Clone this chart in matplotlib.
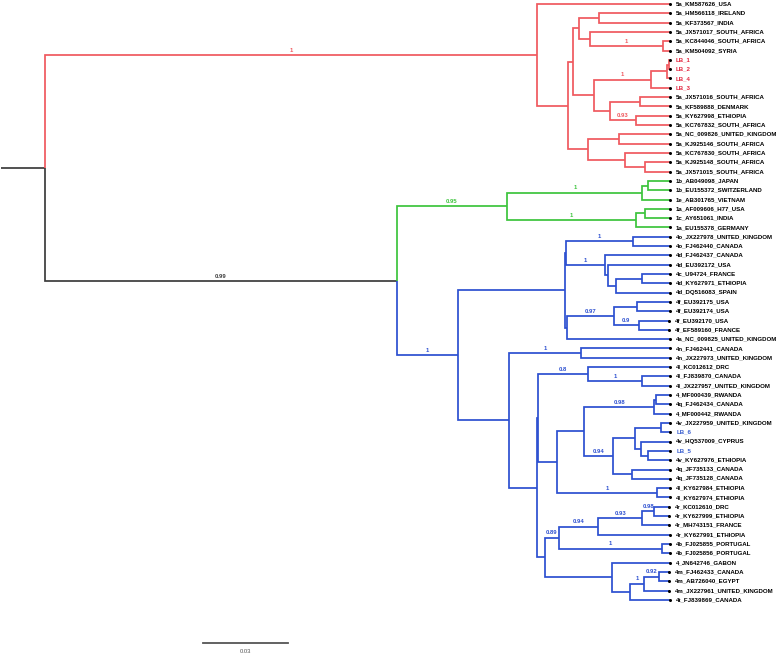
import matplotlib
matplotlib.use('Agg')
import matplotlib.pyplot as plt

#%% data : tree with branch lengths (subst./site) and posterior support
tree_nwk = (
    "((5a_KM587626_USA:0.0468,"
    "((((5a_HM566118_IRELAND:0.0251,5a_KF373567_INDIA:0.0251):0.0070,"
    "(5a_JX571017_SOUTH_AFRICA:0.0282,(5a_KC844046_SOUTH_AFRICA:0.0024,5a_KM504092_SYRIA:0.0024)1:0.0259):0.0038):0.0023,"
    "((((LB_1:0.0004,LB_2:0.0004):0.0008,LB_4:0.0012):0.0055,LB_3:0.0067)1:0.0201,"
    "((5a_JX571016_SOUTH_AFRICA:0.0106,5a_KF589888_DENMARK:0.0106):0.0106,"
    "(5a_KY627998_ETHIOPIA:0.0120,5a_KC767832_SOUTH_AFRICA:0.0120)0.93:0.0092):0.0056):0.0075):0.0016,"
    "((5a_NC_009826_UNITED_KINGDOM:0.0180,5a_KJ925146_SOUTH_AFRICA:0.0180):0.0109,"
    "(5a_KC767830_SOUTH_AFRICA:0.0159,(5a_KJ925148_SOUTH_AFRICA:0.0088,5a_JX571015_SOUTH_AFRICA:0.0088):0.0071):0.0131):0.0070):0.0109)1:0.1738,"
    "((((1b_AB049098_JAPAN:0.0077,1b_EU155372_SWITZERLAND:0.0077):0.0020,1e_AB301765_VIETNAM:0.0096)1:0.0478,"
    "((1a_AF009606_H77_USA:0.0086,1c_AY651061_INDIA:0.0086):0.0034,1a_EU155378_GERMANY:0.0120)1:0.0454)0.95:0.0389,"
    "((((4o_JX227978_UNITED_KINGDOM:0.0130,4o_FJ462440_CANADA:0.0130)1:0.0236,"
    "(4d_FJ462437_CANADA:0.0229,(4d_EU392172_USA:0.0220,((4c_U94724_FRANCE:0.0096,4d_KY627971_ETHIOPIA:0.0096):0.0094,4d_DQ516083_SPAIN:0.0191):0.0029):0.0010)1:0.0136):0.0004,"
    "(((4f_EU392175_USA:0.0114,4f_EU392174_USA:0.0114):0.0083,(4f_EU392170_USA:0.0108,4f_EF589160_FRANCE:0.0108)0.9:0.0088)0.97:0.0165,"
    "4a_NC_009825_UNITED_KINGDOM:0.0362):0.0007):0.0379,"
    "((4n_FJ462441_CANADA:0.0314,4n_JX227973_UNITED_KINGDOM:0.0314)1:0.0253,"
    "(((4l_KC012612_DRC:0.0290,(4l_FJ839870_CANADA:0.0098,4l_JX227957_UNITED_KINGDOM:0.0098)1:0.0193)0.8:0.0176,"
    "((((4_MF000439_RWANDA:0.0052,4q_FJ462434_CANADA:0.0052):0.0004,4_MF000442_RWANDA:0.0055)0.98:0.0247,"
    "(((4v_JX227959_UNITED_KINGDOM:0.0033,LB_6:0.0033):0.0091,(4v_HQ537009_CYPRUS:0.0102,(LB_5:0.0077,4v_KY627976_ETHIOPIA:0.0077):0.0026):0.0021):0.0077,"
    "(4q_JF735133_CANADA:0.0135,4q_JF735128_CANADA:0.0135):0.0065)0.94:0.0102):0.0097,"
    "(4l_KY627984_ETHIOPIA:0.0047,4l_KY627974_ETHIOPIA:0.0047)1:0.0353):0.0067):0.0002,"
    "(((((4r_KC012610_DRC:0.0053,4r_KY627999_ETHIOPIA:0.0053)0.98:0.0043,4r_MH743151_FRANCE:0.0096)0.93:0.0155,4r_KY627991_ETHIOPIA:0.0252)0.94:0.0140,"
    "(4b_FJ025855_PORTUGAL:0.0026,4b_FJ025856_PORTUGAL:0.0026)1:0.0366)0.89:0.0047,"
    "(4_JN642746_GABON:0.0204,(((4m_FJ462433_CANADA:0.0038,4m_AB726040_EGYPT:0.0038)0.92:0.0050,4m_JX227961_UNITED_KINGDOM:0.0088)1:0.0050,4t_FJ839869_CANADA:0.0139):0.0065):0.0235):0.0028):0.0100):0.0181)1:0.0215)0.99:0.1242):0.0155"
)

# genotype of the study samples
sample_genotype = {'LB_1': '5a', 'LB_2': '5a', 'LB_3': '5a', 'LB_4': '5a',
                   'LB_5': '4v', 'LB_6': '4v'}
clade_colors = {'5': '#f0595e', '1': '#3cc43c', '4': '#2c4fd0'}
sample_text_colors = {'5': '#e3263f', '4': '#3a5fd0'}
base_color = '#3c3c3c'
scale_len = 0.03

#%% parse newick
def parse(s):
    pos = [0]
    def node():
        n = {'children': [], 'name': '', 'len': 0.0}
        if s[pos[0]] == '(':
            pos[0] += 1
            while True:
                n['children'].append(node())
                c = s[pos[0]]
                pos[0] += 1
                if c == ')':
                    break
        start = pos[0]
        while pos[0] < len(s) and s[pos[0]] not in ':,();':
            pos[0] += 1
        n['name'] = s[start:pos[0]]
        if pos[0] < len(s) and s[pos[0]] == ':':
            pos[0] += 1
            start = pos[0]
            while pos[0] < len(s) and s[pos[0]] not in ',();':
                pos[0] += 1
            n['len'] = float(s[start:pos[0]])
        return n
    return node()

root = parse(tree_nwk)
leaves = []

def layout(n, x0):
    n['x'] = x0 + n['len']
    if not n['children']:
        n['y'] = len(leaves)
        leaves.append(n)
        g = sample_genotype.get(n['name'], n['name'])[0]
        n['groups'] = {g}
    else:
        for c in n['children']:
            layout(c, n['x'])
        n['y'] = (n['children'][0]['y'] + n['children'][-1]['y']) / 2.
        n['groups'] = set().union(*[c['groups'] for c in n['children']])
    g = n['groups']
    n['color'] = clade_colors[list(g)[0]] if len(g) == 1 else base_color

layout(root, 0.0)

#%% draw
K = scale_len / 85.  # data units per pixel
fig = plt.figure(figsize=(7.78, 6.54), dpi=100)
ax = fig.add_axes([0, 0, 1, 1])
ax.set_xlim(-1 * K, 777 * K)
ax.set_ylim(650 / 9.31, -4 / 9.31)
ax.axis('off')

lw = 1.25
ax.plot([0, root['x']], [root['y'], root['y']], color=base_color, lw=lw,
        solid_capstyle='butt')

def draw(n):
    for c in n['children']:
        ax.plot([n['x'], n['x'], c['x']], [n['y'], c['y'], c['y']],
                color=c['color'], lw=lw, solid_joinstyle='miter', solid_capstyle='butt')
        if c['children'] and c['name']:
            ax.text((n['x'] + c['x']) / 2., c['y'] - 0.5, c['name'],
                    color=c['color'], fontsize=4.2, fontweight='bold',
                    ha='center', va='center', family='Liberation Sans')
        draw(c)

draw(root)

for lf in leaves:
    ax.plot(lf['x'], lf['y'], 'o', color='black', ms=2.2, mec='none')
    tcolor = 'black'
    if lf['name'] in sample_genotype:
        tcolor = sample_text_colors[sample_genotype[lf['name']][0]]
    ax.annotate(lf['name'], (lf['x'], lf['y']), xytext=(4.3, 0),
                textcoords='offset points', fontsize=4.4, fontweight='bold',
                color=tcolor, va='center', ha='left', family='Liberation Sans')

# scale bar
sb_x = 202 * K
sb_y = 639.3 / 9.31
ax.plot([sb_x, sb_x + scale_len], [sb_y, sb_y], color='#555555', lw=1.3)
ax.text(sb_x + scale_len / 2., sb_y + 0.85, '%g' % scale_len, fontsize=4.2,
        ha='center', va='center', color='#555555', family='Liberation Sans')

plt.savefig('out.png', dpi=100)
